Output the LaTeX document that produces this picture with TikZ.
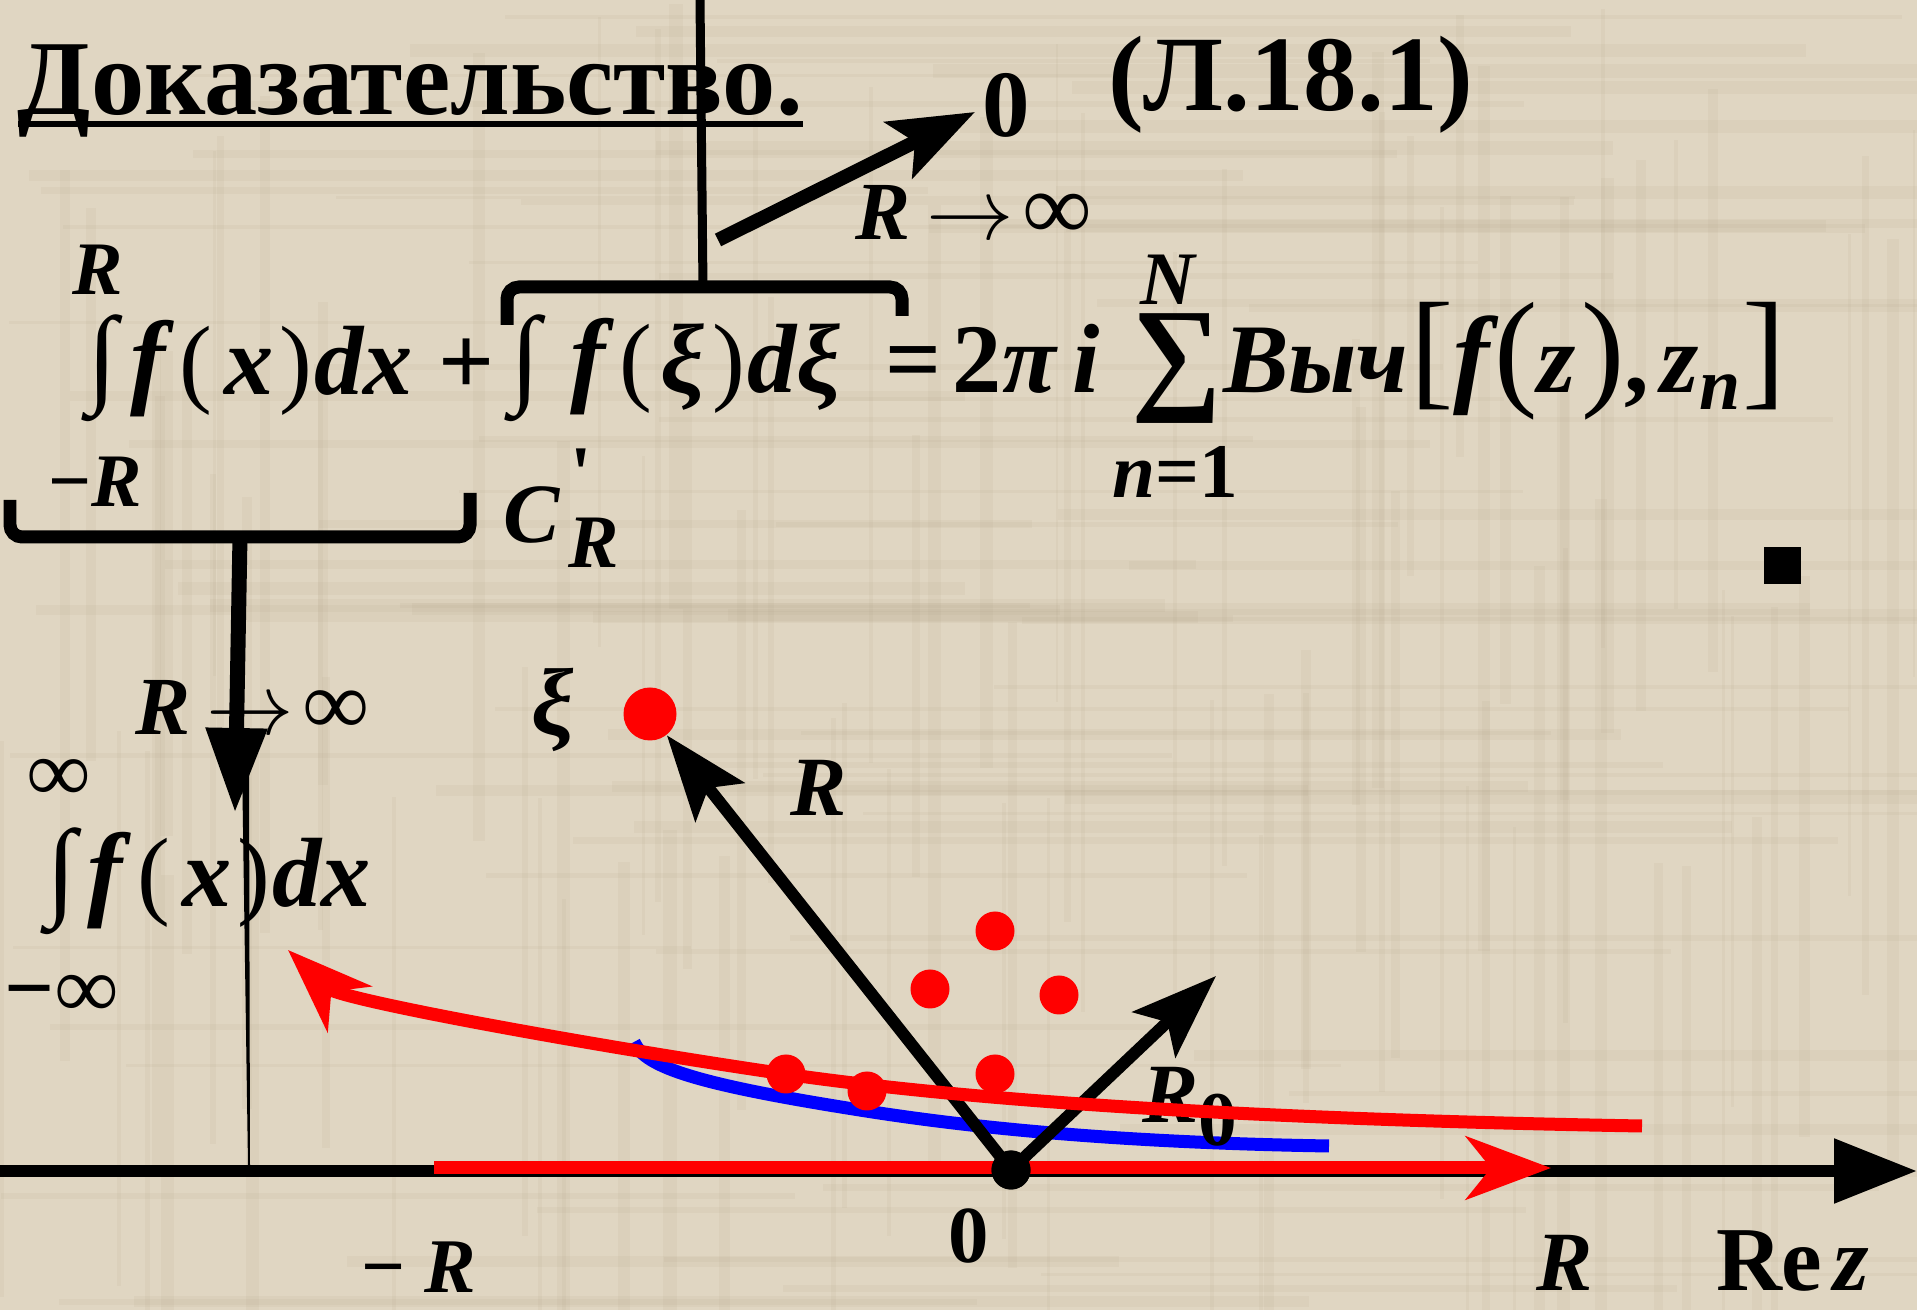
\documentclass[tikz,border=0pt]{standalone}
\usepackage{fontspec}
\setmainfont{Liberation Serif}
\definecolor{paper}{RGB}{224,214,194}
\definecolor{grain}{RGB}{176,160,132}
\definecolor{pured}{RGB}{255,0,0}
\definecolor{pureblue}{RGB}{0,0,255}
\usetikzlibrary{arrows.meta}
\newcommand\fsz[1]{\fontsize{#1}{#1}\selectfont}
\newcommand\bi{\bfseries\itshape}
\newcommand\bu{\bfseries\upshape}
\newcommand\toinf{$\rightarrow$}

\begin{document}
\begin{tikzpicture}[x=0.1mm, y=-0.1mm,
  tx/.style={inner sep=0pt, outer sep=0pt, anchor=base west},
  bigop/.style={inner sep=0pt, outer sep=0pt, anchor=center,
                font=\fsz{31}\bfseries},
  blk/.style={line width=1.2mm, black},
  brk/.style={line width=1.3mm, rounded corners=1.2mm},
  pole/.style={circle, fill=pured, inner sep=0pt, minimum size=3.9mm},
  tipS/.style={-{Stealth[length=8.5mm, width=6.2mm, inset=1.8mm]}},
  tipR/.style={-{Stealth[length=8.5mm, width=6.3mm, inset=2.5mm]}},
]
\useasboundingbox (0,0) rectangle (1917,1310);
\fill[paper] (0,0) rectangle (1917,1310);

% Paper grain
\pgfmathsetseed{7}
\foreach \i in {1,...,90}{
  \pgfmathsetmacro\gx{rnd*1917}
  \pgfmathsetmacro\gw{0.2+rnd*1.2}
  \pgfmathsetmacro\gy{rnd*900}
  \fill[grain, opacity=0.1] (\gx,\gy) rectangle ++(\gw*10,400+rnd*600);
}
\foreach \i in {1,...,80}{
  \pgfmathsetmacro\gy{rnd*1310}
  \pgfmathsetmacro\gw{0.2+rnd*1.2}
  \pgfmathsetmacro\gx{rnd*1300}
  \fill[grain, opacity=0.1] (\gx,\gy) rectangle ++(600+rnd*800,\gw*10);
}

% Title and number
\node[tx, font=\fsz{30.3}\bfseries] (title) at (18,115) {Доказательство.};
\draw[line width=0.6mm] ([yshift=-0.9mm]title.base west) -- ([yshift=-0.9mm]title.base east);
\node[tx, font=\fsz{30.5}\bfseries] (eqnum) at (1108,111) {(Л.18.1)};

% Arrow to 0 from the contour integral
\node[tx, font=\fsz{27}\bu] (zerotop) at (982,137) {0};
\node[tx, font=\fsz{23.5}] (limtop) at (855,240)
  {{\bi R}\hspace{0.2em}\toinf\hspace{0.12em}{\fsz{27}\bfseries ∞}};
\coordinate (ctail) at (718,240);
\coordinate (ctip) at (975,112);
\draw[line width=1.4mm, tipS] (ctail) -- (ctip);

% Main formula
\node[tx, font=\fsz{21.5}\bi] (limR) at (73,295) {R};
\node[bigop] (int1) at (102,368) {∫};
\node[tx, font=\fsz{28}] (fx1) at (130,395)
  {{\fsz{30}\bi f}\hspace{0.15em}(\hspace{0.12em}{\bi x}\hspace{0.06em})\hspace{0.02em}{\bi dx}};
\node[tx, font=\fsz{28}\bfseries] (plus) at (438,395) {+};
\node[tx, font=\fsz{21.5}\bfseries] (limmR) at (48,507) {−{\itshape R}};
\node[bigop] (int2) at (525,368) {∫};
\node[tx, font=\fsz{28}] (fxi) at (570,393)
  {{\fsz{30}\bi f}\hspace{0.15em}(\hspace{0.08em}{\bi ξ}\hspace{0.08em})\hspace{0.02em}{\bi dξ}};
\node[tx, font=\fsz{24}\bi] (cr) at (503,543) {C};
\node[tx, font=\fsz{22}\bu] (crp) at (570,500) {\textquotesingle};
\node[tx, font=\fsz{21.5}\bi] (crR) at (568,568) {R};
\node[tx, font=\fsz{28}\bfseries] (eq) at (885,393)
  {=\hspace{0.12em}2{\itshape π}\hspace{0.17em}{\itshape i}};
\node[bigop, font=\fsz{36}\bfseries] (sum) at (1177,369) {∑};
\node[tx, font=\fsz{21.5}\bi] (sumN) at (1140,305) {N};
\node[tx, font=\fsz{22}\bfseries] (sumn) at (1112,498) {{\itshape n}=1};
\node[tx, font=\fsz{28}\bi] (vych) at (1223,393) {Выч};
\node[tx, font=\fsz{28}] (args) at (1410,393)
  {{\fsz{37}[}{\fsz{31}\bi f}\hspace{0.05em}{\fsz{37}(}{\bi z}\hspace{0.05em}{\fsz{37})}{\bfseries ,}\hspace{0.12em}{\bi z}{\fsz{21}\bi\raisebox{-0.22em}{n}}\hspace{0.02em}{\fsz{37}]}};
\node[fill=black, inner sep=0pt, minimum size=3.7mm] (qed) at (1782,566) {};

% Brackets under the integrals
\draw[brk] (507,325) -- (507,287) -- (902,287) -- (902,316);
\draw[line width=0.9mm] (700,0) -- (703,287);
\draw[brk] (10,500) -- (10,537) -- (470,537) -- (470,493);

% Limit of the real integral
\node[tx, font=\fsz{23.5}] (limlow) at (135,735)
  {{\bi R}\hspace{0.2em}\toinf\hspace{0.12em}{\fsz{26}\bfseries ∞}};
\node[tx, font=\fsz{25}\bfseries] (infup) at (28,802) {∞};
\node[bigop] (int3) at (61,881) {∫};
\node[tx, font=\fsz{28}] (fx2) at (88,907)
  {{\fsz{30}\bi f}\hspace{0.15em}(\hspace{0.12em}{\bi x}\hspace{0.06em})\hspace{0.02em}{\bi dx}};
\node[tx, font=\fsz{25}\bfseries] (infdn) at (5,1018) {−∞};
\coordinate (btop) at (240,537);
\coordinate (btip) at (235,813);
\draw[line width=1.5mm, -{Triangle[length=8.5mm, width=5.8mm]}] (btop) -- (btip);
\fill (242,760) -- (249,760) -- (250,1165) -- (248,1165) -- cycle;

% Real axis
\coordinate (xl) at (0,1171);
\coordinate (xr) at (1917,1171);
\draw[line width=1.2mm, -{Triangle[length=8.3mm, width=6.2mm]}] (xl) -- (xr);
\coordinate (rl) at (434,1168);
\coordinate (rr) at (1551,1168);
\draw[pured, line width=1.3mm, tipR] (rl) -- (rr);

% Small arc
\draw[pureblue, line width=1.3mm] (634,1042) .. controls (645,1068) and (700,1085) .. (866,1111)
  .. controls (1000,1132) and (1150,1143) .. (1329,1146);

% Radii
\node[circle, fill=pured, inner sep=0pt, minimum size=5.3mm] (xi) at (650,714) {};
\node[circle, fill=black, inner sep=0pt, minimum size=3.9mm] (o) at (1011,1170) {};
\coordinate (r0tip) at (1216,976);
\draw[blk, tipS] (o.center) -- (xi);
\draw[blk, tipS] (o.center) -- (r0tip);

% Labels in the plane
\node[anchor=center, inner sep=0pt, font=\fsz{27}\bi] (xilab) at (553,710) {ξ};
\node[tx, font=\fsz{24}\bi] (rlab) at (790,816) {R};
\node[tx, font=\fsz{24}\bi] (r0lab) at (1142,1123) {R};
\node[tx, font=\fsz{22}\bu] (r0sub) at (1198,1146) {0};
\node[tx, font=\fsz{23}\bu] (olab) at (948,1263) {0};
\node[tx, font=\fsz{22}\bfseries] (mrlab) at (361,1292) {−\hspace{0.25em}{\itshape R}};
\node[tx, font=\fsz{24}\bi] (prlab) at (1536,1290) {R};
\node[tx, font=\fsz{26}\bfseries] (rez) at (1716,1290) {Re\hspace{0.12em}{\itshape z}};

% Large arc
\coordinate (arcs) at (1642,1126);
\coordinate (arcm) at (785,1074);
\coordinate (arce) at (288,950);
\draw[pured, line width=1.3mm, tipR] (arcs) .. controls (1300,1120) and (1000,1105) .. (arcm)
  .. controls (600,1047) and (340,1000) .. (arce);
\node[circle, fill=black, inner sep=0pt, minimum size=3.9mm] (odot) at (o) {};

% Poles
\node[pole] (z1) at (995,931) {};
\node[pole] (z2) at (930,989) {};
\node[pole] (z3) at (1059,995) {};
\node[pole] (z4) at (995,1074) {};
\node[pole] (z5) at (786,1074) {};
\node[pole] (z6) at (867,1091) {};
\end{tikzpicture}
\end{document}
